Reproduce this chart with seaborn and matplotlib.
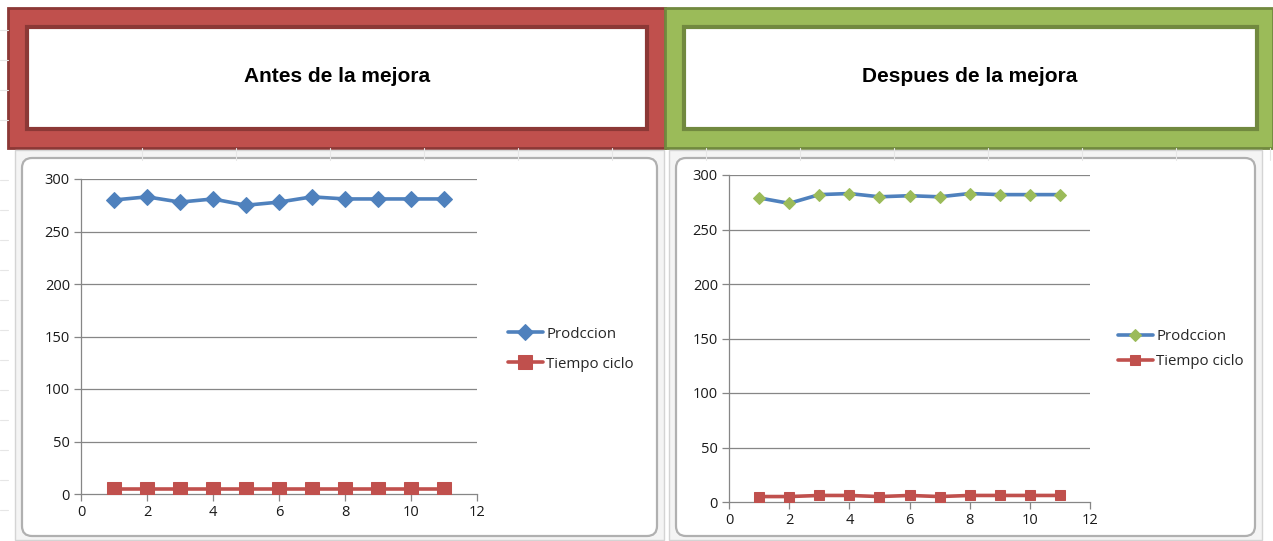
import numpy as np
import pandas as pd
import matplotlib
matplotlib.use("Agg")
import matplotlib.pyplot as plt
from matplotlib.patches import Rectangle, FancyBboxPatch
import seaborn as sns

# ---------------- data ----------------
muestras = [1, 2, 3, 4, 5, 6, 7, 8, 9, 10, 11]
antes_produccion = [280, 283, 278, 281, 275, 278, 283, 281, 281, 281, 281]
antes_tiempo = [5, 5, 5, 5, 5, 5, 5, 5, 5, 5, 5]
despues_produccion = [279, 274, 282, 283, 280, 281, 280, 283, 282, 282, 282]
despues_tiempo = [5, 5, 6, 6, 5, 6, 5, 6, 6, 6, 6]
titulos = ["Antes de la mejora", "Despues de la mejora"]
serie_nombres = ["Prodccion", "Tiempo ciclo"]
x_ticks = [0, 2, 4, 6, 8, 10, 12]
y_ticks = [0, 50, 100, 150, 200, 250, 300]

sns.set_style("white")
plt.rcParams["font.family"] = ["Open Sans", "DejaVu Sans"]

W, H = 1273, 541
fig = plt.figure(figsize=(W / 100, H / 100), dpi=100)
fig.patch.set_facecolor("white")

# background overlay in pixel coords
bg = fig.add_axes([0, 0, 1, 1], zorder=-1)
bg.set_xlim(0, W)
bg.set_ylim(H, 0)
bg.axis("off")

# faint spreadsheet grid
for xv in [142, 236, 330, 424, 518, 612, 706, 800, 894, 988, 1082, 1176, 1270]:
    bg.plot([xv, xv], [148, 160], color="#E6E6E6", lw=0.8)
for yv in [30, 60, 90, 120, 180, 210, 240, 270, 300, 330, 360, 390, 420, 450, 480, 510]:
    bg.plot([0, 8], [yv, yv], color="#E6E6E6", lw=0.8)

# header boxes
headers = [
    dict(x0=8, x1=665, fill="#C0504D", edge="#8C3836", ix0=27, ix1=647, title=titulos[0], tx=337),
    dict(x0=665, x1=1273, fill="#9BBB59", edge="#71893F", ix0=684, ix1=1257, title=titulos[1], tx=970),
]
for h in headers:
    bg.add_patch(Rectangle((h["x0"], 8), h["x1"] - h["x0"], 140, facecolor=h["fill"],
                           edgecolor=h["edge"], lw=2))
    bg.add_patch(Rectangle((h["ix0"], 27), h["ix1"] - h["ix0"], 102, facecolor="white",
                           edgecolor=h["edge"], lw=3))
    bg.text(h["tx"], 77, h["title"], ha="center", va="center", fontsize=15,
            fontweight="bold", family=["Liberation Sans", "DejaVu Sans"], color="black")

# chart frames
for (x0, x1) in [(15, 664), (669, 1262)]:
    bg.add_patch(Rectangle((x0, 150), x1 - x0, 390, facecolor="#F4F4F4",
                           edgecolor="#D4D4D4", lw=1))
for (x0, x1) in [(22, 657), (676, 1255)]:
    bg.add_patch(FancyBboxPatch((x0, 158), x1 - x0, 378,
                                boxstyle="round,pad=0,rounding_size=10",
                                facecolor="white", edgecolor="#B0B0B0", lw=1.6))

blue = "#4F81BD"
red = "#C0504D"
green = "#9BBB59"
grid_c = "#868686"


def make_ax(rect, prod, tiempo, prod_marker_color, dsize, ssize, legend_anchor, spacing):
    ax = fig.add_axes(rect)
    ax.patch.set_alpha(0)
    sns.lineplot(x=muestras, y=prod, ax=ax, color=blue, lw=2.6, marker="D",
                 markersize=dsize, markerfacecolor=prod_marker_color,
                 markeredgecolor=prod_marker_color, label=serie_nombres[0], zorder=3)
    sns.lineplot(x=muestras, y=tiempo, ax=ax, color=red, lw=2.6, marker="s",
                 markersize=ssize, markerfacecolor=red, markeredgecolor=red,
                 label=serie_nombres[1], zorder=3)
    ax.set_xlim(0, 12)
    ax.set_ylim(0, 300)
    ax.set_xticks(x_ticks)
    ax.set_yticks(y_ticks)
    ax.set_xticklabels([str(t) for t in x_ticks])
    ax.set_yticklabels([str(t) for t in y_ticks])
    ax.grid(False)
    for yv in y_ticks[1:]:
        ax.axhline(yv, color=grid_c, lw=0.9, zorder=1)
    for s in ["top", "right"]:
        ax.spines[s].set_visible(False)
    for s in ["left", "bottom"]:
        ax.spines[s].set_color(grid_c)
        ax.spines[s].set_linewidth(0.9)
    ax.tick_params(axis="both", which="both", direction="out", length=5, width=0.9,
                   color=grid_c, labelsize=10.5, labelcolor="#1A1A1A", pad=3,
                   left=True, bottom=True)
    ax.set_xlabel("")
    ax.set_ylabel("")
    ax.legend(loc="center left", bbox_to_anchor=legend_anchor,
              bbox_transform=fig.transFigure, frameon=False, fontsize=10.8,
              handlelength=2.3, handletextpad=0.25, labelspacing=spacing,
              borderaxespad=0, borderpad=0)
    return ax


make_ax([81 / W, 47 / H, 396 / W, 315 / H], antes_produccion, antes_tiempo, blue,
        8.5, 9.5, (508 / W, 1 - 349 / H), 1.0)
make_ax([729 / W, 39 / H, 361 / W, 327 / H], despues_produccion, despues_tiempo, green,
        6.5, 7.5, (1118 / W, 1 - 349 / H), 0.65)

fig.savefig("out.png", dpi=100)
